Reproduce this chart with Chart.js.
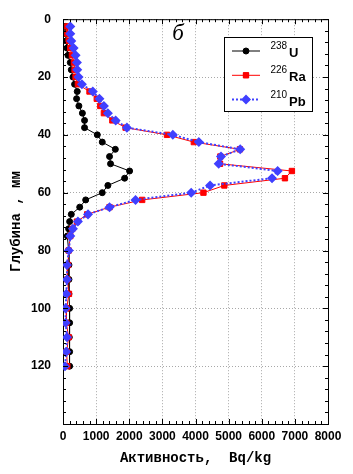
<!DOCTYPE html>
<html>
<head>
<meta charset="utf-8">
<script src="https://cdn.jsdelivr.net/npm/chart.js@4.4.1/dist/chart.umd.min.js"></script>
<style>
    html, body { margin: 0; padding: 0; background: #fff; }
</style>
</head>
<body>
<canvas id="profileChart" width="353" height="474"></canvas>
<script>
// глубина отбора, мм
const depth = [2.5, 5, 7.5, 10, 12.5, 15, 17.5, 20, 22.5, 25, 27.5, 30, 32.5, 35, 37.5, 40, 42.5, 45, 47.5, 50,
    52.5, 55, 57.5, 60, 62.5, 65, 67.5, 70, 72.5, 75, 80, 85, 90, 95, 100, 105, 110, 115, 120];

// активность, Bq/kg
const u238 = [70, 70, 100, 120, 150, 220, 250, 300, 350, 430, 410, 480, 585, 650, 650, 1035, 1185, 1580, 1405, 1435,
    2010, 1860, 1355, 1185, 685, 505, 250, 200, 170, 130, 170, 180, 180, 180, 200, 200, 190, 200, 200];
const ra226 = [130, 130, 170, 220, 270, 330, 350, 380, 450, 800, 1020, 1125, 1235, 1490, 1890, 3140, 3950, 5340, 4750, 4740,
    6910, 6700, 4870, 4240, 2390, 1405, 730, 420, 280, 220, 170, 150, 130, 180, 110, 100, 170, 110, 130];
const pb210 = [220, 220, 250, 320, 380, 420, 430, 470, 570, 900, 1100, 1235, 1355, 1590, 1930, 3315, 4100, 5350, 4770, 4700,
    6480, 6310, 4440, 3870, 2190, 1405, 755, 450, 300, 220, 175, 120, 120, 100, 80, 80, 120, 100, 60];

const isotopes = ['238', '226', '210'];
const elements = ['U', 'Ra', 'Pb'];

const xMax = 8000, xStep = 1000;
const yMax = 140, yStep = 20;

function toPoints(values) {
    return depth.map((d, i) => ({ x: values[i], y: d }));
}

const titleFont = { family: 'Liberation Mono', weight: 'bold', size: 14 };

// рамка, внутренние засечки и легенда
const framePlugin = {
    id: 'frame',
    afterDraw(chart) {
        const { ctx, chartArea: a, scales: { x, y } } = chart;
        ctx.save();
        ctx.strokeStyle = '#000';
        ctx.lineWidth = 1;
        ctx.setLineDash([]);
        ctx.beginPath();
        ctx.moveTo(a.left, a.top + 0.5); ctx.lineTo(a.right + 1, a.top + 0.5);
        ctx.moveTo(a.right + 0.5, a.top); ctx.lineTo(a.right + 0.5, a.bottom);
        for (let v = 0; v <= xMax; v += xStep / 5) {
            const px = Math.round(x.getPixelForValue(v)) + 0.5;
            const len = v % xStep === 0 ? 5 : 3;
            ctx.moveTo(px, a.bottom); ctx.lineTo(px, a.bottom - len);
            ctx.moveTo(px, a.top); ctx.lineTo(px, a.top + len);
        }
        for (let v = 0; v <= yMax; v += yStep / 5) {
            const py = Math.round(y.getPixelForValue(v)) + 0.5;
            const len = v % yStep === 0 ? 5 : 3;
            ctx.moveTo(a.left, py); ctx.lineTo(a.left + len, py);
            ctx.moveTo(a.right, py); ctx.lineTo(a.right - len, py);
        }
        ctx.stroke();

        // подпись панели
        ctx.fillStyle = '#000';
        ctx.font = 'italic 23px "Liberation Serif"';
        ctx.textAlign = 'center';
        ctx.textBaseline = 'alphabetic';
        ctx.fillText('б', 178, 40);

        // легенда
        ctx.fillStyle = '#fff';
        ctx.fillRect(224.5, 37.5, 88, 74);
        ctx.strokeRect(224.5, 37.5, 88, 74);
        chart.data.datasets.forEach((ds, i) => {
            const ly = 51 + i * 24.3;
            ctx.save();
            ctx.strokeStyle = ds.borderColor;
            ctx.lineWidth = ds.borderWidth;
            ctx.setLineDash(ds.borderDash || []);
            ctx.beginPath();
            ctx.moveTo(232, ly); ctx.lineTo(260, ly);
            ctx.stroke();
            ctx.setLineDash([]);
            Chart.helpers.drawPoint(ctx, {
                pointStyle: ds.pointStyle, radius: ds.pointRadius, rotation: 0, borderWidth: 1
            }, 246, ly);
            ctx.fillStyle = ds.pointBackgroundColor;
            ctx.fill();
            ctx.restore();
            ctx.fillStyle = '#000';
            ctx.textAlign = 'left';
            ctx.font = '10px "Liberation Sans"';
            ctx.fillText(isotopes[i], 270.5, ly - 2);
            ctx.font = 'bold 13px "Liberation Sans"';
            ctx.fillText(elements[i], 289, ly + 6);
        });
        ctx.restore();
    }
};

const ctx = document.getElementById('profileChart').getContext('2d');
new Chart(ctx, {
    type: 'scatter',
    data: {
        datasets: [{
            label: '238U',
            data: toPoints(u238),
            showLine: true,
            borderColor: '#000',
            backgroundColor: '#000',
            pointBackgroundColor: '#000',
            pointBorderColor: '#000',
            borderWidth: 1,
            pointStyle: 'circle',
            pointRadius: 3,
            order: 2
        }, {
            label: '226Ra',
            data: toPoints(ra226),
            showLine: true,
            borderColor: '#ff0000',
            backgroundColor: '#ff0000',
            pointBackgroundColor: '#ff0000',
            pointBorderColor: '#ff0000',
            borderWidth: 1,
            pointStyle: 'rect',
            pointRadius: 3.8,
            order: 1
        }, {
            label: '210Pb',
            data: toPoints(pb210),
            showLine: true,
            borderColor: '#4040ff',
            backgroundColor: '#4040ff',
            pointBackgroundColor: '#4040ff',
            pointBorderColor: '#4040ff',
            borderWidth: 2,
            borderDash: [2, 2],
            pointStyle: 'rectRot',
            pointRadius: 3.6,
            order: 0
        }]
    },
    options: {
        responsive: false,
        animation: false,
        layout: { padding: { left: 0, top: 15, right: 25, bottom: 0 } },
        plugins: { legend: { display: false }, tooltip: { enabled: false } },
        scales: {
            x: {
                type: 'linear',
                min: 0, max: xMax,
                afterFit: s => { s.height = 50; },
                ticks: {
                    stepSize: xStep, color: '#000', padding: 5, maxRotation: 0,
                    font: { family: 'Liberation Sans', weight: 'bold', size: 12 },
                    callback: v => String(v)
                },
                grid: { color: '#a8a8a8', drawTicks: false },
                border: { display: true, color: '#000', width: 1, dash: [1, 2] },
                title: { display: true, text: 'Активность,  Bq/kg', color: '#000', font: titleFont, padding: { top: 0, bottom: 7 } }
            },
            y: {
                type: 'linear',
                reverse: true,
                min: 0, max: yMax,
                afterFit: s => { s.width = 63; },
                ticks: {
                    stepSize: yStep, color: '#000', padding: 12,
                    font: { family: 'Liberation Sans', weight: 'bold', size: 12 },
                    callback: v => v === yMax ? '' : String(v)
                },
                grid: { color: '#a8a8a8', drawTicks: false },
                border: { display: true, color: '#000', width: 1, dash: [1, 2] },
                title: { display: true, text: 'Глубина , мм', color: '#000', font: titleFont, padding: { top: 8, bottom: 0 } }
            }
        }
    },
    plugins: [framePlugin]
});
</script>
</body>
</html>
